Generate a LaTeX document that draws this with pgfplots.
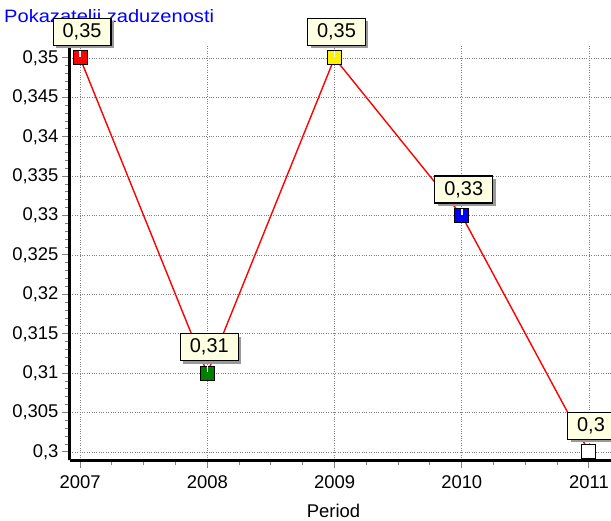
\documentclass[border=0pt]{standalone}
\usepackage{pgfplots}
\pgfplotsset{compat=1.18}
\usepackage{fontspec}
\setmainfont{Liberation Sans}
\usetikzlibrary{shadows}
\definecolor{cream}{RGB}{255,255,225}
\definecolor{dgreen}{RGB}{0,128,0}
\pgfdeclareplotmark{sqw}{%
  \pgfpathrectangle{\pgfqpoint{-\pgfplotmarksize}{-\pgfplotmarksize}}{\pgfqpoint{2\pgfplotmarksize}{2\pgfplotmarksize}}%
  \pgfusepathqfillstroke
  \pgfscope
  \pgfsetstrokecolor{white}\pgfsetlinewidth{1.5bp}%
  \pgfpathmoveto{\pgfqpoint{0pt}{\pgfplotmarksize}}%
  \pgfpathlineto{\pgfqpoint{0pt}{0.1\pgfplotmarksize}}%
  \pgfusepathqstroke
  \endpgfscope
}
\begin{document}
\begin{tikzpicture}
\useasboundingbox (-70bp,-61bp) rectangle (541bp,460bp);
\node[anchor=west, text=blue, font=\fontsize{18}{20}\selectfont, inner sep=0] at (-66bp,442bp) {\scalebox{1.12}[1]{Pokazatelji zaduzenosti}};
\begin{axis}[at={(0,0)}, anchor=south west, scale only axis,
  width=541bp, height=415bp,
  xmin=2006.921, xmax=2011.173, ymin=0.29898, ymax=0.35165,
  axis lines*=left, axis line style={line width=3bp, black, -},
  xtick={2007,2008,2009,2010,2011},
  ytick={0.3,0.305,0.31,0.315,0.32,0.325,0.33,0.335,0.34,0.345,0.35},
  minor x tick num=3, minor y tick num=4,
  tick align=outside, major tick length=8bp, minor tick length=5bp,
  tick style={gray, line width=1bp},
  grid=major, major grid style={dotted, gray, line width=0.9bp},
  /pgf/number format/assume math mode=true,
  xticklabel style={/pgf/number format/1000 sep={}, yshift=-4bp},
  yticklabel style={/pgf/number format/.cd, fixed, precision=3, use comma},
  ticklabel style={font=\fontsize{18.5}{20}\selectfont},
  xlabel={Period}, xlabel style={font=\fontsize{18.5}{20}\selectfont, xshift=-7bp, yshift=-9bp},
  clip=false,
]
\addplot[red, line width=1.4bp, no markers] coordinates {(2007,0.35) (2008,0.31) (2009,0.35) (2010,0.33) (2011,0.3)};
\addplot[draw=none, no markers, point meta=y,
  nodes near coords={\pgfmathprintnumber[fixed,precision=2,use comma,assume math mode=true]{\pgfplotspointmeta}},
  every node near coord/.append style={fill=cream, draw=black, line width=1.2bp, inner xsep=9.5bp, inner ysep=3bp, minimum height=27bp, anchor=center, yshift=26bp, xshift=2bp, font=\fontsize{20}{22}\selectfont,
    drop shadow={shadow xshift=3bp, shadow yshift=-3bp, fill=gray!80, opacity=1}}]
  coordinates {(2007,0.35) (2008,0.31) (2009,0.35) (2010,0.33) (2011,0.3)};
\addplot[only marks, mark=sqw, mark size=7bp, mark options={fill=red, draw=black, line width=1bp}] coordinates {(2007,0.35)};
\addplot[only marks, mark=sqw, mark size=7bp, mark options={fill=dgreen, draw=black, line width=1bp}] coordinates {(2008,0.31)};
\addplot[only marks, mark=sqw, mark size=7bp, mark options={fill=yellow, draw=black, line width=1bp}] coordinates {(2009,0.35)};
\addplot[only marks, mark=sqw, mark size=7bp, mark options={fill=blue, draw=black, line width=1bp}] coordinates {(2010,0.33)};
\addplot[only marks, mark=sqw, mark size=7bp, mark options={fill=white, draw=black, line width=1bp}] coordinates {(2011,0.3)};
\end{axis}
\end{tikzpicture}
\end{document}
